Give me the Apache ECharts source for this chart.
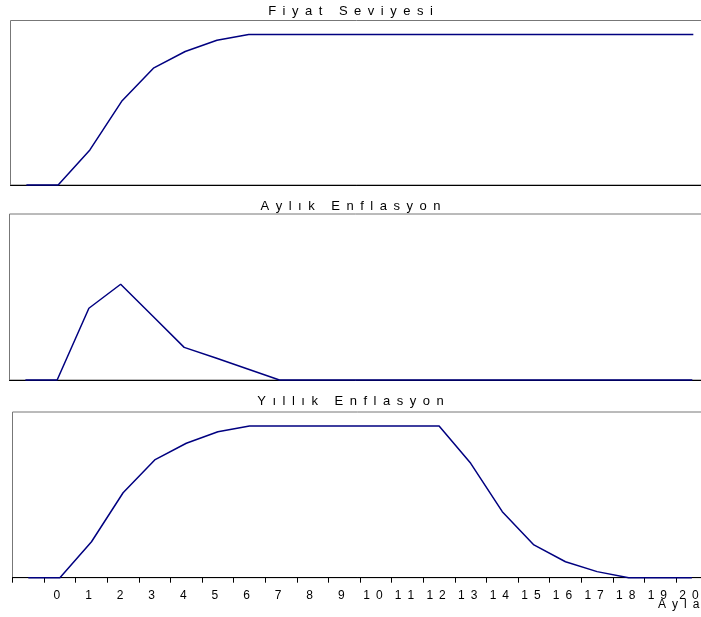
<!DOCTYPE html>
<html>
<head>
<meta charset="utf-8">
<script src="https://cdn.jsdelivr.net/npm/echarts@6/dist/echarts.min.js"></script>
<style>
  html, body { margin: 0; padding: 0; background: #fff; }
  #chart { width: 701px; height: 617px; }
</style>
</head>
<body>
<div id="chart"></div>
<script>
// months: first category is the unlabeled one before month 0
const months = ['', '0', '1', '2', '3', '4', '5', '6', '7', '8', '9', '10',
  '11', '12', '13', '14', '15', '16', '17', '18', '19', '20']

const fiyatSeviyesi = [100, 100, 102.33, 105.56, 107.76, 108.87, 109.62, 110,
  110, 110, 110, 110, 110, 110, 110, 110, 110, 110, 110, 110, 110, 110]

const aylikEnflasyon = [0, 0, 2.42, 3.23, 2.17, 1.10, 0.74, 0.37,
  0, 0, 0, 0, 0, 0, 0, 0, 0, 0, 0, 0, 0, 0]

const yillikEnflasyon = [0, 0, 2.37, 5.60, 7.76, 8.86, 9.62, 10,
  10, 10, 10, 10, 10, 10, 7.54, 4.35, 2.16, 1.05, 0.40, 0, 0, 0]

const panelTitles = ['Fiyat Seviyesi', 'Aylık Enflasyon', 'Yıllık Enflasyon']
const xAxisName = 'Aylar'

const FONT = '"Liberation Sans", Arial, sans-serif'
const LINE_COLOR = '#000080'

// the source draws text with wide letter spacing
const spaced = (s) => s.split('').join('\u2002')

const chart = echarts.init(document.getElementById('chart'))

// panels run past the right edge of the window, like the original
const grids = [
  { left: 10.5, top: 20.5, width: 698.7, height: 164.5 },
  { left: 9.5, top: 214, width: 698.7, height: 166 },
  { left: 12.5, top: 412, width: 695.2, height: 165.7 },
]

const yRanges = [
  { min: 100, max: 110.93 },
  { min: 0, max: 5.6 },
  { min: 0, max: 10.92 },
]

const titleTops = [5, 199.5, 394.5]
const seriesData = [fiyatSeviyesi, aylikEnflasyon, yillikEnflasyon]

const option = {
  animation: false,
  backgroundColor: '#fff',
  title: panelTitles.map((t, i) => ({
    text: spaced(t),
    left: 'center',
    top: titleTops[i],
    padding: 0,
    textStyle: { fontFamily: FONT, fontSize: 13, fontWeight: 'normal', color: '#000' },
  })).concat([{
    text: spaced(xAxisName),
    left: 658,
    top: 599,
    padding: 0,
    textStyle: { fontFamily: FONT, fontSize: 12, fontWeight: 'normal', color: '#000' },
  }]),
  grid: grids.map((g) => ({
    ...g,
    show: true,
    borderColor: '#777',
    borderWidth: 1,
    containLabel: false,
    outerBoundsMode: 'none',
  })),
  xAxis: grids.map((g, i) => ({
    type: 'category',
    gridIndex: i,
    data: months,
    boundaryGap: true,
    axisLine: { show: true, lineStyle: { color: '#000', width: 1 } },
    axisTick: {
      show: i === 2,
      interval: 0,
      length: 5,
      lineStyle: { color: '#000' },
    },
    axisLabel: {
      show: i === 2,
      interval: 0,
      margin: 12,
      padding: [0, 6, 0, 0],
      fontFamily: FONT,
      fontSize: 12,
      color: '#000',
      formatter: (v) => spaced(v),
    },
    splitLine: { show: false },
  })),
  yAxis: grids.map((g, i) => ({
    type: 'value',
    gridIndex: i,
    min: yRanges[i].min,
    max: yRanges[i].max,
    show: false,
    splitLine: { show: false },
  })),
  series: seriesData.map((d, i) => ({
    name: panelTitles[i],
    type: 'line',
    xAxisIndex: i,
    yAxisIndex: i,
    data: d,
    symbol: 'none',
    clip: false,
    lineStyle: { color: LINE_COLOR, width: 1.5 },
  })),
}

chart.setOption(option)
</script>
</body>
</html>
